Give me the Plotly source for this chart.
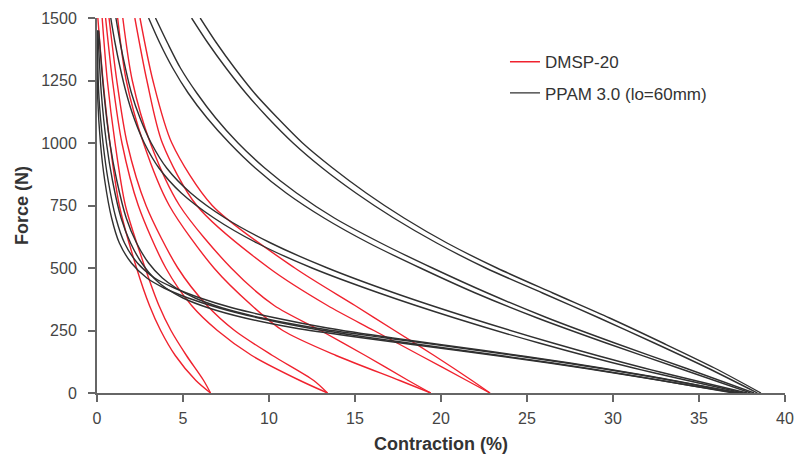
import plotly.graph_objects as go

# DMSP-20 loops: one force list, two branches per loop (contraction in %)
red_force = [1500, 1250, 1000, 750, 500, 350, 250, 150, 50, 0]
dmsp_a1 = [0.05, 0.35, 0.75, 1.3, 2.3, 3.05, 3.7, 4.55, 5.75, 6.6]
dmsp_a2 = [0.3, 0.6, 1.05, 1.65, 2.8, 3.6, 4.3, 5.2, 6.2, 6.6]
dmsp_b1 = [0.5, 0.9, 1.45, 2.4, 4.0, 5.5, 7.0, 9.0, 11.8, 13.4]
dmsp_b2 = [0.7, 1.15, 1.75, 2.85, 4.7, 6.4, 8.0, 10.2, 12.6, 13.4]
dmsp_c1 = [1.2, 1.7, 2.7, 4.2, 6.8, 9.0, 10.8, 13.9, 17.6, 19.4]
dmsp_c2 = [1.5, 2.05, 3.1, 4.8, 7.8, 10.3, 13.0, 15.6, 18.1, 19.4]
dmsp_d1 = [2.2, 2.9, 3.8, 5.8, 10.0, 13.4, 16.1, 18.8, 21.5, 22.85]
dmsp_d2 = [2.5, 3.25, 4.35, 6.7, 11.5, 15.0, 17.3, 19.6, 21.8, 22.85]

# PPAM 3.0 loops
ppam_force = [1500, 1400, 1300, 1200, 1100, 1000, 900, 800, 700, 600, 500, 400, 300, 200, 100, 0]
ppam1_c1 = [5.5, 6.45, 7.5, 8.65, 9.95, 11.4, 13.1, 15.05, 17.25, 19.75, 22.6, 25.9, 29.2, 32.4, 35.5, 38.4]
ppam1_c2 = [6.0, 6.95, 8.0, 9.15, 10.5, 11.95, 13.7, 15.65, 17.85, 20.35, 23.25, 26.5, 29.8, 32.9, 35.9, 38.6]
ppam2_c1 = [3.0, 3.65, 4.4, 5.3, 6.4, 7.7, 9.2, 11.0, 13.2, 15.8, 18.8, 22.0, 25.6, 29.6, 33.8, 38.0]
ppam2_c2 = [3.4, 4.1, 4.85, 5.8, 6.9, 8.2, 9.75, 11.6, 13.8, 16.5, 19.5, 22.7, 26.2, 30.1, 34.2, 38.2]
ppam3_c1 = [0.8, 1.05, 1.35, 1.7, 2.15, 2.75, 3.6, 4.9, 6.8, 9.3, 12.5, 16.4, 20.8, 25.7, 31.2, 37.6]
ppam3_c2 = [1.1, 1.35, 1.65, 2.0, 2.5, 3.15, 4.05, 5.45, 7.45, 10.1, 13.4, 17.3, 21.7, 26.5, 31.8, 37.8]

low_force = [1450, 1200, 1000, 850, 700, 600, 520, 460, 420, 380, 340, 300, 260, 220, 170, 120, 70, 30, 0]
ppam4_c1 = [0.05, 0.25, 0.55, 0.9, 1.4, 1.95, 2.6, 3.3, 4.0, 5.0, 6.5, 8.6, 11.5, 15.5, 21.0, 26.3, 31.0, 34.5, 37.2]
ppam4_c2 = [0.1, 0.4, 0.75, 1.15, 1.7, 2.3, 3.0, 3.8, 4.6, 5.7, 7.3, 9.6, 12.7, 16.8, 22.2, 27.3, 31.8, 35.0, 37.4]
ppam5_c1 = [0.0, 0.03, 0.2, 0.45, 0.85, 1.3, 2.0, 2.9, 3.9, 5.3, 7.1, 9.4, 12.3, 16.0, 21.3, 26.5, 31.1, 34.5, 37.0]
ppam5_c2 = [0.02, 0.1, 0.35, 0.65, 1.1, 1.6, 2.35, 3.35, 4.5, 6.0, 7.9, 10.4, 13.4, 17.2, 22.5, 27.5, 31.9, 35.0, 37.2]

RED = '#f0222e'
DARK = '#303030'
FONT = 'Liberation Sans, Arial, sans-serif'

fig = go.Figure()

red_lines = [dmsp_a1, dmsp_a2, dmsp_b1, dmsp_b2, dmsp_c1, dmsp_c2, dmsp_d1, dmsp_d2]
for i, cx in enumerate(red_lines):
    fig.add_trace(go.Scatter(x=cx, y=red_force, mode='lines', name='DMSP-20',
                             line=dict(color=RED, width=1.4, shape='spline', smoothing=0.8),
                             legendgroup='dmsp', showlegend=(i == 0)))

ppam = [(ppam_force, ppam1_c1), (ppam_force, ppam1_c2),
        (ppam_force, ppam2_c1), (ppam_force, ppam2_c2),
        (ppam_force, ppam3_c1), (ppam_force, ppam3_c2),
        (low_force, ppam4_c1), (low_force, ppam4_c2),
        (low_force, ppam5_c1), (low_force, ppam5_c2)]
for i, (fy, cx) in enumerate(ppam):
    fig.add_trace(go.Scatter(x=cx, y=fy, mode='lines', name='PPAM 3.0 (lo=60mm)',
                             line=dict(color=DARK, width=1.4, shape='spline', smoothing=0.8),
                             legendgroup='ppam', showlegend=(i == 0)))

axis_font = dict(family=FONT, size=16, color='#444')
title_font = dict(family=FONT, size=18, color='#333', weight='bold')

fig.update_layout(
    width=794, height=456,
    margin=dict(l=97, r=9, t=18, b=63, autoexpand=False),
    paper_bgcolor='white', plot_bgcolor='white',
    showlegend=True,
    legend=dict(x=0.593, y=0.93, xanchor='left', yanchor='top',
                font=dict(family=FONT, size=17, color='#333'),
                tracegroupgap=6, traceorder='grouped', bgcolor='rgba(0,0,0,0)'),
    xaxis=dict(range=[0, 40], dtick=5, showgrid=False, zeroline=False, automargin=False,
               showline=True, linecolor='#666', linewidth=2,
               ticks='outside', ticklen=7, tickcolor='#666', tickwidth=1.5,
               tickfont=axis_font, ticklabelstandoff=3,
               title=dict(text='Contraction (%)', font=title_font, standoff=11)),
    yaxis=dict(range=[0, 1500], dtick=250, showgrid=False, zeroline=False, automargin=False,
               showline=True, linecolor='#666', linewidth=2,
               ticks='outside', ticklen=7, tickcolor='#666', tickwidth=1.5,
               tickfont=axis_font, ticklabelstandoff=8,
               title=dict(text='Force (N)', font=title_font, standoff=8)),
)

# drop the default 8px body margin so the figure sits at the window origin
fig.write_html("out.html", config={'displayModeBar': False},
               post_script="document.body.style.margin='0px';")
